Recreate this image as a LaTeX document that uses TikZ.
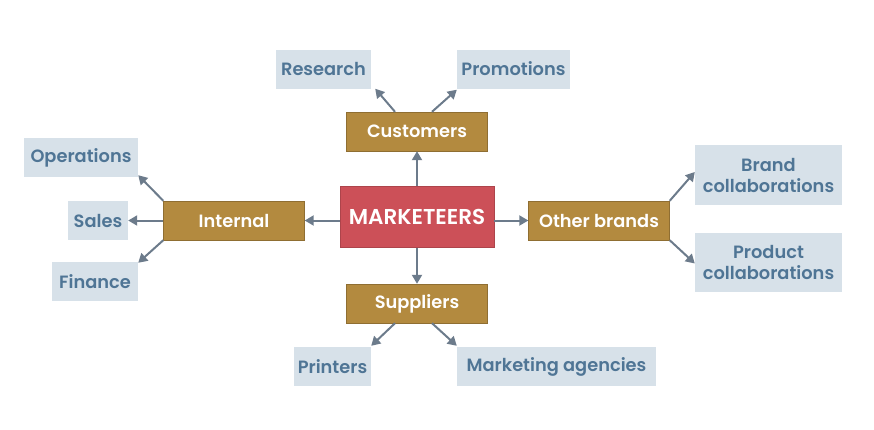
\documentclass[tikz,border=0pt]{standalone}
\usepackage{fontspec}
\setmainfont{Poppins}[BoldFont={Poppins SemiBold}]
\usetikzlibrary{arrows.meta}
\definecolor{leafbg}{HTML}{D7E1E9}
\definecolor{leaftx}{HTML}{4F7595}
\definecolor{goldbg}{HTML}{B38A3F}
\definecolor{redbg}{HTML}{CC5058}
\definecolor{arrowc}{HTML}{6C7B8B}
\tikzset{
  leaf/.style={fill=leafbg, text=leaftx, inner sep=0pt, minimum height=39pt, align=center, font=\bfseries\fontsize{17.8}{21}\selectfont},
  mid/.style={fill=goldbg, draw=goldbg!80!black, line width=0.4pt, text=white, inner sep=0pt, minimum width=141pt, minimum height=39pt, font=\bfseries\fontsize{17.8}{21}\selectfont},
  hub/.style={fill=redbg, draw=redbg!85!black, line width=0.4pt, text=white, inner sep=0pt, minimum width=154pt, minimum height=61pt, font=\bfseries\fontsize{21.5}{22}\selectfont},
  link/.style={draw=arrowc, line width=2pt, -{Triangle[length=9pt,width=10pt]}}
}
\begin{document}
\begin{tikzpicture}[x=1pt,y=-1pt]
\useasboundingbox (0,0) rectangle (874,429);
% hub and mid nodes
\node[hub] (mk) at (417,217) {MARKETEERS};
\node[mid] (cu) at (417,131.5) {Customers};
\node[mid] (su) at (417,303.5) {Suppliers};
\node[mid] (in) at (234,220.5) {Internal};
\node[mid] (ob) at (599,220.5) {Other brands};
% leaves
\node[leaf, minimum width=95pt] (re) at (323.5,69) {Research};
\node[leaf, minimum width=113pt] (pr) at (513.5,69) {Promotions};
\node[leaf, minimum width=114pt] (op) at (81,157.5) {Operations};
\node[leaf, minimum width=60pt] (sa) at (98,220.5) {Sales};
\node[leaf, minimum width=86pt] (fi) at (95,281.5) {Finance};
\node[leaf, minimum width=147pt, minimum height=60pt] (bc) at (768.5,175) {Brand\\collaborations};
\node[leaf, minimum width=147pt, minimum height=59pt] (pc) at (768.5,262.5) {Product\\collaborations};
\node[leaf, minimum width=77pt] (pt) at (332.5,366.5) {Printers};
\node[leaf, minimum width=199pt] (ma) at (556.5,366.5) {Marketing agencies};
% coordinates for arrow starts
\coordinate (cuL) at ([xshift=-22pt]cu.north);
\coordinate (cuR) at ([xshift=15pt]cu.north);
\coordinate (suL) at ([xshift=-22pt]su.south);
\coordinate (suR) at ([xshift=15pt]su.south);
% connectors
\draw[link] (mk.north) -- (cu.south);
\draw[link] (mk.south) -- (su.north);
\draw[link] (mk.west |- in.east) -- (in.east);
\draw[link] (mk.east |- ob.west) -- (ob.west);
\draw[link] (cuL) -- ([xshift=4pt]re.south east);
\draw[link] (cuR) -- ([yshift=-1pt]pr.south west);
\draw[link] (suL) -- ([yshift=1pt]pt.north east);
\draw[link] (suR) -- ([yshift=1pt]ma.north west);
\draw[link] (in.north west) -- ([yshift=2pt]op.south east);
\draw[link] (in.west) -- (sa.east);
\draw[link] (in.south west) -- ([yshift=-1pt]fi.north east);
\draw[link] (ob.north east) -- ([yshift=3pt]bc.west);
\draw[link] (ob.south east) -- ([yshift=-1pt]pc.west);
\end{tikzpicture}
\end{document}
